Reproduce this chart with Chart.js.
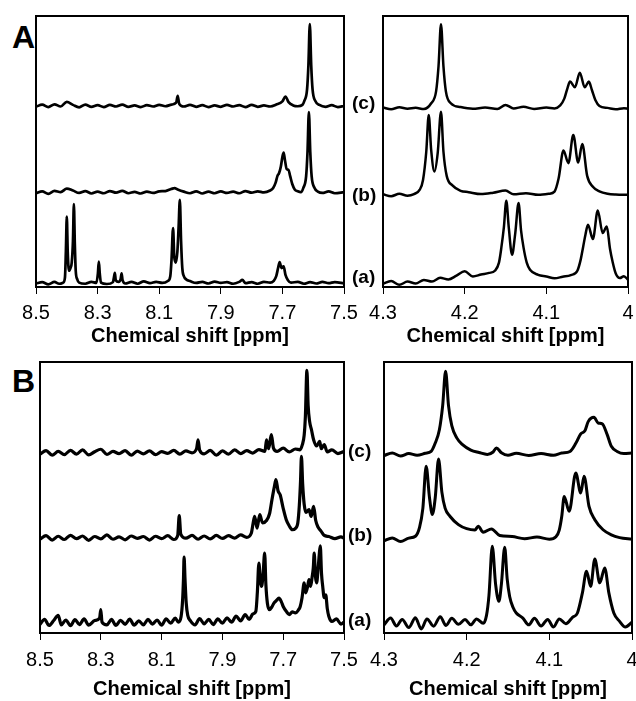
<!DOCTYPE html>
<html><head><meta charset="utf-8">
<script src="https://cdn.jsdelivr.net/npm/chart.js@4.4.0/dist/chart.umd.min.js"></script>
<style>
html,body{margin:0;padding:0;background:#fff;overflow:hidden;width:636px;height:701px;}
canvas{position:absolute;}
.letter{position:absolute;font:bold 32px 'Liberation Sans',Arial,sans-serif;line-height:32px;color:#000;}
</style></head><body>
<div class="letter" style="left:12px;top:21px">A</div>
<div class="letter" style="left:12px;top:365px">B</div>
<canvas id="aL" width="380" height="350" style="left:0;top:0"></canvas>
<canvas id="aR" width="276" height="350" style="left:360px;top:0"></canvas>
<canvas id="bL" width="380" height="355" style="left:0;top:346px"></canvas>
<canvas id="bR" width="280" height="355" style="left:360px;top:346px"></canvas>
<script>
// ---------- data: [chemical shift (ppm), stacked intensity] ----------
const traceNames = ['(a)', '(b)', '(c)'];
const axisTitle = 'Chemical shift [ppm]';
const aromaticTicks = [7.5, 7.7, 7.9, 8.1, 8.3, 8.5];
const aromaticTickLabels = ['7.5', '7.7', '7.9', '8.1', '8.3', '8.5'];
const aliphaticTicks = [4.0, 4.1, 4.2, 4.3];
const aliphaticTickLabels = ['4', '4.1', '4.2', '4.3'];

// Panel A, 8.5-7.5 ppm
const A_aro_a = [[8.500,1.3],[8.480,1.8],[8.460,1.0],[8.440,1.9],[8.425,1.2],[8.412,1.6],[8.406,3.5],[8.403,13],[8.400,26.0],[8.397,13],[8.393,6],[8.388,7.0],[8.384,9],[8.380,17],[8.377,30.6],[8.374,16],[8.371,6],[8.366,2.8],[8.360,1.6],[8.340,1.2],[8.320,1.9],[8.304,1.5],[8.299,5],[8.296,9.4],[8.293,5],[8.289,1.6],[8.270,1.1],[8.250,1.8],[8.247,3.5],[8.244,5.2],[8.241,2.5],[8.232,1.9],[8.225,3.0],[8.222,5.0],[8.219,2.5],[8.210,1.3],[8.190,1.9],[8.170,1.2],[8.150,2.1],[8.130,1.4],[8.110,1.9],[8.090,1.5],[8.072,2.2],[8.064,4],[8.060,10],[8.055,21.7],[8.051,11],[8.046,9.0],[8.041,13],[8.037,22],[8.033,32.2],[8.029,17],[8.025,7],[8.020,4.0],[8.012,2.8],[8.000,2.2],[7.980,1.5],[7.960,1.9],[7.940,1.3],[7.920,2.0],[7.900,1.5],[7.880,1.8],[7.860,1.2],[7.840,1.9],[7.830,2.6],[7.820,1.4],[7.800,1.8],[7.780,1.2],[7.760,1.9],[7.740,1.6],[7.728,2.3],[7.720,4.0],[7.714,7.0],[7.709,9.2],[7.703,7.0],[7.696,7.6],[7.690,4.5],[7.682,2.5],[7.672,1.6],[7.650,1.9],[7.630,1.2],[7.610,1.8],[7.590,1.3],[7.570,1.9],[7.550,1.4],[7.530,1.8],[7.500,1.3]];
const A_aro_b = [[8.500,34.6],[8.480,35.3],[8.460,34.4],[8.440,35.5],[8.420,35.0],[8.400,36.3],[8.380,35.6],[8.360,34.7],[8.340,35.4],[8.320,34.5],[8.300,35.2],[8.280,34.6],[8.260,35.4],[8.240,34.8],[8.220,35.5],[8.200,34.6],[8.180,35.1],[8.160,34.5],[8.140,35.2],[8.120,34.7],[8.100,35.3],[8.080,35.4],[8.060,36.2],[8.050,36.5],[8.040,36.0],[8.020,35.2],[8.000,34.6],[7.980,35.3],[7.960,34.5],[7.940,35.2],[7.920,34.6],[7.900,35.3],[7.880,34.7],[7.860,35.2],[7.840,34.6],[7.820,35.4],[7.800,34.8],[7.780,35.3],[7.760,34.9],[7.740,35.6],[7.730,36.5],[7.722,38.5],[7.716,41.0],[7.711,42.0],[7.705,44.5],[7.700,48.0],[7.696,49.6],[7.692,47.0],[7.686,43.5],[7.680,43.2],[7.675,41.0],[7.668,38.0],[7.660,36.0],[7.650,35.3],[7.640,35.0],[7.632,36.6],[7.623,40.8],[7.6185,49.7],[7.614,64.5],[7.6095,49.7],[7.605,40.8],[7.596,36.6],[7.585,35.2],[7.570,34.7],[7.550,35.3],[7.530,34.6],[7.500,35.0]];
const A_aro_c = [[8.500,66.5],[8.480,67.3],[8.460,66.4],[8.440,67.4],[8.420,66.6],[8.400,68.3],[8.380,67.2],[8.360,66.3],[8.340,67.3],[8.320,66.5],[8.300,67.1],[8.280,66.4],[8.260,67.2],[8.240,66.6],[8.220,67.3],[8.200,66.5],[8.180,67.0],[8.160,66.4],[8.140,67.1],[8.120,66.6],[8.100,67.2],[8.080,66.7],[8.060,67.3],[8.045,68.0],[8.040,70.5],[8.035,67.6],[8.020,66.6],[8.000,67.2],[7.980,66.5],[7.960,67.1],[7.940,66.4],[7.920,67.0],[7.900,66.5],[7.880,67.2],[7.860,66.6],[7.840,67.1],[7.820,66.4],[7.800,67.2],[7.780,66.5],[7.760,67.0],[7.740,66.6],[7.720,67.3],[7.700,68.5],[7.690,70.3],[7.680,68.2],[7.665,67.0],[7.650,66.7],[7.635,67.2],[7.629,68.6],[7.620,72.8],[7.6155,81.9],[7.611,97.0],[7.6065,81.9],[7.602,72.8],[7.593,68.6],[7.580,67.2],[7.560,66.5],[7.540,67.1],[7.520,66.4],[7.500,66.8]];

// Panel A, 4.3-4.0 ppm
const A_ali_a = [[4.300,1.2],[4.290,2.2],[4.280,0.8],[4.270,2.0],[4.260,1.3],[4.250,2.6],[4.240,2.0],[4.230,3.4],[4.220,2.8],[4.210,4.2],[4.200,5.8],[4.190,3.9],[4.180,4.6],[4.170,5.2],[4.163,6.0],[4.158,9.0],[4.155,14.7],[4.152,22.0],[4.149,31.8],[4.146,22.0],[4.142,11.9],[4.138,20.0],[4.134,31.0],[4.131,21.0],[4.128,14.7],[4.124,9.0],[4.120,6.4],[4.110,4.5],[4.100,3.9],[4.090,3.2],[4.080,3.8],[4.070,4.4],[4.062,6.0],[4.058,10.0],[4.055,14.7],[4.052,19.5],[4.049,23.0],[4.043,17.7],[4.037,28.2],[4.031,19.9],[4.026,22.3],[4.022,14.0],[4.019,9.5],[4.015,5.0],[4.010,3.3],[4.005,4.0],[4.000,2.7]];
const A_ali_b = [[4.300,34.2],[4.290,33.5],[4.280,34.4],[4.270,33.7],[4.262,34.3],[4.255,35.9],[4.251,39.5],[4.247,50.0],[4.244,63.5],[4.241,50.5],[4.237,42.6],[4.233,49.5],[4.229,64.7],[4.226,50.0],[4.222,41.0],[4.215,37.5],[4.205,35.5],[4.195,35.0],[4.180,34.3],[4.165,34.8],[4.150,35.6],[4.140,34.2],[4.125,34.6],[4.110,34.0],[4.097,34.4],[4.090,35.2],[4.085,40.0],[4.079,50.4],[4.073,45.7],[4.067,56.1],[4.061,45.9],[4.056,52.8],[4.050,41.0],[4.043,37.0],[4.035,35.3],[4.025,34.4],[4.015,34.1],[4.000,34.0]];
const A_ali_c = [[4.300,66.2],[4.290,65.6],[4.280,66.3],[4.270,65.8],[4.260,66.1],[4.250,65.7],[4.241,67.8],[4.235,72.2],[4.232,81.5],[4.229,97.0],[4.226,81.5],[4.223,72.2],[4.217,67.8],[4.205,66.4],[4.190,65.8],[4.175,66.2],[4.160,65.7],[4.150,67.2],[4.140,65.9],[4.128,66.5],[4.115,65.7],[4.100,66.2],[4.090,65.9],[4.083,67.0],[4.078,69.5],[4.074,73.5],[4.071,75.8],[4.065,73.7],[4.059,79.1],[4.053,73.7],[4.048,75.8],[4.044,72.5],[4.040,69.0],[4.035,66.8],[4.025,66.1],[4.015,65.6],[4.005,66.0],[4.000,65.8]];

// Panel B, 8.5-7.5 ppm
const B_aro_a = [[8.500,3.2],[8.485,5.0],[8.470,2.8],[8.455,4.6],[8.440,6.5],[8.430,3.0],[8.415,4.8],[8.400,2.7],[8.385,4.9],[8.370,3.1],[8.355,5.2],[8.340,2.9],[8.320,4.6],[8.304,5.5],[8.300,8.6],[8.296,4.0],[8.280,3.0],[8.265,5.0],[8.250,2.8],[8.235,4.7],[8.220,3.2],[8.205,5.1],[8.190,2.9],[8.175,4.5],[8.160,3.0],[8.145,5.0],[8.130,3.3],[8.115,4.8],[8.100,2.9],[8.085,5.2],[8.070,3.6],[8.055,5.5],[8.045,4.0],[8.036,6.0],[8.031,12.0],[8.028,20.0],[8.026,28.0],[8.023,20.0],[8.019,11.0],[8.014,6.5],[8.005,4.5],[7.990,3.0],[7.975,5.3],[7.960,3.4],[7.945,5.0],[7.930,3.1],[7.915,5.2],[7.900,3.6],[7.885,5.6],[7.870,4.0],[7.855,6.2],[7.840,4.5],[7.825,6.8],[7.812,5.0],[7.800,7.0],[7.790,8.0],[7.785,15.0],[7.780,25.8],[7.775,19.0],[7.771,17.2],[7.766,22.0],[7.761,29.5],[7.757,18.0],[7.752,11.0],[7.745,8.6],[7.738,9.5],[7.730,11.1],[7.722,12.0],[7.714,12.9],[7.706,11.5],[7.700,9.8],[7.690,8.0],[7.680,6.8],[7.670,7.8],[7.660,7.4],[7.650,8.5],[7.644,9.8],[7.638,13.0],[7.631,18.5],[7.626,14.8],[7.620,17.0],[7.615,19.7],[7.610,17.2],[7.605,20.5],[7.601,24.0],[7.598,29.5],[7.594,21.0],[7.590,18.5],[7.585,24.0],[7.581,29.5],[7.578,32.2],[7.574,22.0],[7.570,17.2],[7.565,13.0],[7.560,14.1],[7.555,9.0],[7.550,6.2],[7.540,4.3],[7.525,5.2],[7.510,3.3],[7.500,4.0]];
const B_aro_b = [[8.500,34.6],[8.480,35.9],[8.460,34.3],[8.440,35.7],[8.420,34.5],[8.400,36.0],[8.380,34.8],[8.360,35.8],[8.340,34.2],[8.320,35.6],[8.300,34.7],[8.280,36.2],[8.260,34.6],[8.240,35.5],[8.220,34.4],[8.200,35.8],[8.180,34.9],[8.160,35.6],[8.140,34.3],[8.120,35.7],[8.100,34.8],[8.080,35.9],[8.060,34.5],[8.047,36.0],[8.042,43.3],[8.037,36.5],[8.020,35.0],[8.000,36.0],[7.980,34.6],[7.960,35.8],[7.940,34.7],[7.920,36.0],[7.900,34.9],[7.880,35.9],[7.860,35.0],[7.840,36.2],[7.820,35.3],[7.805,36.8],[7.799,40.5],[7.794,43.0],[7.786,38.7],[7.777,43.7],[7.768,40.6],[7.755,41.5],[7.745,44.0],[7.737,49.2],[7.729,54.0],[7.724,56.6],[7.717,52.5],[7.710,51.0],[7.700,46.0],[7.690,41.8],[7.680,39.5],[7.670,38.1],[7.660,38.6],[7.652,40.6],[7.647,47.0],[7.643,56.0],[7.640,65.2],[7.636,55.0],[7.631,47.5],[7.625,44.5],[7.615,45.5],[7.608,43.0],[7.600,46.7],[7.593,41.5],[7.585,39.0],[7.575,37.5],[7.565,36.0],[7.550,35.6],[7.530,34.8],[7.510,35.5],[7.500,35.0]];
const B_aro_c = [[8.500,66.0],[8.480,67.3],[8.460,65.6],[8.440,67.0],[8.420,65.8],[8.400,67.4],[8.380,66.0],[8.360,67.6],[8.340,65.7],[8.320,66.9],[8.300,67.8],[8.280,65.9],[8.260,67.0],[8.240,66.2],[8.220,67.3],[8.200,65.6],[8.180,67.1],[8.160,66.1],[8.140,67.2],[8.120,65.8],[8.100,66.9],[8.080,66.3],[8.060,67.4],[8.040,66.0],[8.020,67.2],[8.000,66.5],[7.985,68.0],[7.980,71.3],[7.975,67.5],[7.960,66.1],[7.940,67.4],[7.920,65.6],[7.900,67.2],[7.880,66.0],[7.860,67.6],[7.840,66.2],[7.820,67.3],[7.800,66.4],[7.780,67.7],[7.760,67.0],[7.755,71.3],[7.748,68.0],[7.739,73.2],[7.732,68.2],[7.720,67.0],[7.700,68.2],[7.680,66.8],[7.660,67.9],[7.645,67.6],[7.637,69.5],[7.631,73.0],[7.627,80.0],[7.622,96.9],[7.618,84.0],[7.613,78.0],[7.607,75.0],[7.600,71.3],[7.590,69.0],[7.580,70.7],[7.575,68.0],[7.565,69.5],[7.555,66.8],[7.540,67.6],[7.520,66.2],[7.500,67.0]];

// Panel B, 4.3-4.0 ppm
const B_ali_a = [[4.300,3.0],[4.292,5.5],[4.285,2.6],[4.278,5.0],[4.270,2.0],[4.262,5.6],[4.255,1.5],[4.248,5.2],[4.240,2.5],[4.232,6.0],[4.225,2.8],[4.218,5.4],[4.210,3.2],[4.202,5.0],[4.195,3.0],[4.188,5.2],[4.180,3.6],[4.176,6.5],[4.173,14.0],[4.169,32.0],[4.165,18.0],[4.161,11.7],[4.158,18.0],[4.154,31.6],[4.151,20.0],[4.148,13.5],[4.144,9.5],[4.140,7.4],[4.132,5.5],[4.125,3.0],[4.118,5.4],[4.110,2.6],[4.102,5.0],[4.095,2.2],[4.088,5.2],[4.080,3.4],[4.072,5.8],[4.066,7.4],[4.060,14.8],[4.055,22.8],[4.050,17.2],[4.045,27.3],[4.039,18.5],[4.033,24.0],[4.028,14.8],[4.022,7.4],[4.015,4.3],[4.008,2.2],[4.000,4.0]];
const B_ali_b = [[4.300,34.0],[4.290,35.1],[4.280,33.8],[4.270,35.0],[4.262,35.7],[4.257,39.0],[4.253,46.0],[4.249,61.5],[4.245,50.0],[4.2415,43.7],[4.238,50.0],[4.234,64.2],[4.230,52.0],[4.226,46.0],[4.220,43.0],[4.210,40.0],[4.200,38.5],[4.190,38.0],[4.186,39.4],[4.180,37.2],[4.170,38.4],[4.160,36.0],[4.145,35.6],[4.130,34.8],[4.115,35.4],[4.100,34.6],[4.092,35.5],[4.088,38.0],[4.085,43.0],[4.082,50.4],[4.076,44.9],[4.068,59.0],[4.062,51.7],[4.058,57.8],[4.052,46.7],[4.045,41.8],[4.035,38.1],[4.025,36.2],[4.015,35.2],[4.000,34.6]];
const B_ali_c = [[4.300,65.5],[4.290,66.4],[4.280,65.3],[4.270,66.2],[4.260,65.6],[4.250,66.3],[4.243,67.0],[4.238,70.1],[4.233,75.0],[4.229,84.0],[4.2255,96.6],[4.222,84.0],[4.218,76.5],[4.212,72.0],[4.205,69.5],[4.195,67.5],[4.185,66.6],[4.175,65.9],[4.168,66.8],[4.164,68.3],[4.158,66.5],[4.150,65.6],[4.140,66.3],[4.125,65.5],[4.110,66.2],[4.095,65.6],[4.085,66.4],[4.075,67.0],[4.068,70.0],[4.062,73.5],[4.057,74.6],[4.053,78.0],[4.046,79.6],[4.041,77.5],[4.036,77.2],[4.030,73.2],[4.025,68.9],[4.018,67.0],[4.010,66.2],[4.000,66.4]];

// ---------- drawing ----------
const FONT = "'Liberation Sans', Arial, Helvetica, sans-serif";
Chart.defaults.font.family = FONT;

const framePlugin = {
  id: 'frame',
  afterDraw(chart, args, opts) {
    const {ctx, chartArea: a} = chart;
    ctx.save();
    ctx.strokeStyle = '#000';
    ctx.lineWidth = 2;
    ctx.strokeRect(a.left, a.top, a.right - a.left, a.bottom - a.top);
    if (opts.showNames) {
      const ys = chart.scales.y;
      ctx.font = 'bold 19px ' + FONT;
      ctx.fillStyle = '#000';
      ctx.textAlign = 'left';
      ctx.textBaseline = 'middle';
      chart.data.datasets.forEach((ds, i) => {
        const last = ds.data[ds.data.length - 1].y;
        ctx.fillText(ds.label, a.right + opts.dx, ys.getPixelForValue(last) + opts.dy[i]);
      });
    }
    ctx.restore();
  }
};

function makeChart(id, traces, xMin, xMax, tickVals, tickLbls, L) {
  new Chart(document.getElementById(id), {
    type: 'line',
    data: {
      datasets: traces.map((t, i) => ({
        label: traceNames[i],
        data: t.map(p => ({x: p[0], y: p[1]})),
        borderColor: '#000',
        borderWidth: L.lw,
        borderJoinStyle: 'round',
        pointRadius: 0,
        fill: false,
        cubicInterpolationMode: 'monotone'
      }))
    },
    options: {
      responsive: false,
      animation: false,
      devicePixelRatio: 1,
      layout: {padding: {left: L.pl, right: L.pr, top: L.pt, bottom: 0}},
      plugins: {
        legend: {display: false},
        tooltip: {enabled: false},
        frame: {showNames: L.names, dx: L.dx, dy: L.dy}
      },
      scales: {
        x: {
          type: 'linear', reverse: true, min: xMin, max: xMax,
          afterBuildTicks: s => { s.ticks = tickVals.map(v => ({value: v})); },
          afterFit: s => { s.height = L.axisH; },
          grid: {display: true, drawOnChartArea: false, drawTicks: true, tickLength: 7, tickColor: '#000', tickWidth: 1},
          border: {display: false},
          ticks: {color: '#000', padding: L.tp, maxRotation: 0, autoSkip: false,
                  font: {family: FONT, size: 20}, callback: (v, i) => tickLbls[i]},
          title: {display: true, text: axisTitle, color: '#000',
                  font: {family: FONT, size: 20, weight: 'bold'}, padding: {top: 0, bottom: L.tb}}
        },
        y: {display: false, min: 0, max: 100}
      }
    },
    plugins: [framePlugin]
  });
}

makeChart('aL', [A_aro_a, A_aro_b, A_aro_c], 7.5, 8.5, aromaticTicks, aromaticTickLabels,
  {pl: 36, pr: 36, pt: 16, axisH: 63, tp: 7, tb: 2, lw: 2.7, names: true, dx: 8, dy: [-6, 4, -2]});
makeChart('aR', [A_ali_a, A_ali_b, A_ali_c], 4.0, 4.3, aliphaticTicks, aliphaticTickLabels,
  {pl: 23, pr: 8, pt: 16, axisH: 63, tp: 7, tb: 2, lw: 2.5, names: false, dx: 0, dy: [0, 0, 0]});
makeChart('bL', [B_aro_a, B_aro_b, B_aro_c], 7.5, 8.5, aromaticTicks, aromaticTickLabels,
  {pl: 40, pr: 36, pt: 16, axisH: 68, tp: 8, tb: 0, lw: 3.2, names: true, dx: 4, dy: [-1, -2, 0]});
makeChart('bR', [B_ali_a, B_ali_b, B_ali_c], 4.0, 4.3, aliphaticTicks, aliphaticTickLabels,
  {pl: 24, pr: 8, pt: 16, axisH: 68, tp: 8, tb: 0, lw: 3.0, names: false, dx: 0, dy: [0, 0, 0]});
</script>
</body></html>
